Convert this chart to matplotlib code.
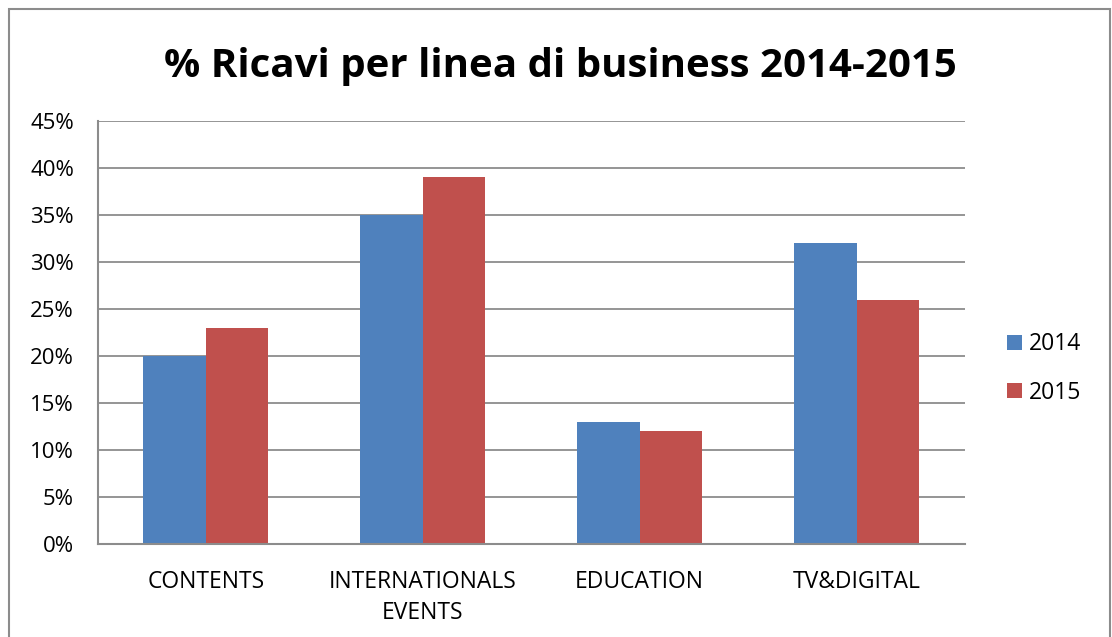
import matplotlib
matplotlib.use("Agg")
import matplotlib.pyplot as plt
from matplotlib.patches import Rectangle
from matplotlib.ticker import FuncFormatter, MultipleLocator
import numpy as np

categories = ["CONTENTS", "INTERNATIONALS\nEVENTS", "EDUCATION", "TV&DIGITAL"]
series_names = ["2014", "2015"]
values_2014 = [20, 35, 13, 32]
values_2015 = [23, 39, 12, 26]
title = "% Ricavi per linea di business 2014-2015"

W, H = 1112, 637
fig = plt.figure(figsize=(W / 100, H / 100), dpi=100)
plt.rcParams['font.family'] = ['Open Sans', 'DejaVu Sans']

# outer chart border
fig.patches.append(Rectangle((9 / W, -0.05), (1110 - 9) / W, (H - 9) / H + 0.05,
                             transform=fig.transFigure, fill=False,
                             edgecolor='#8c8c8c', linewidth=1.5))

ax = fig.add_axes([97.5 / W, 1 - 544 / H, (965 - 97.5) / W, (544 - 121) / H])
x = np.arange(len(categories))
bw = 0.288
ax.bar(x - bw / 2, values_2014, width=bw, color='#4F81BD', label=series_names[0])
ax.bar(x + bw / 2, values_2015, width=bw, color='#C0504D', label=series_names[1])

ax.set_xlim(-0.5, len(categories) - 0.5)
ax.set_ylim(0, 45)
ax.yaxis.set_major_locator(MultipleLocator(5))
ax.yaxis.set_major_formatter(FuncFormatter(lambda v, p: f"{int(round(v))}%"))
ax.grid(axis='y', color='#8c8c8c', linewidth=1.3)
ax.set_axisbelow(True)
for s in ['top', 'right']:
    ax.spines[s].set_visible(False)
for s in ['left', 'bottom']:
    ax.spines[s].set_color('#8c8c8c')
    ax.spines[s].set_linewidth(1.5)
ax.set_xticks(x)
ax.set_xticklabels(categories, fontsize=16.5, linespacing=1.35)
ax.tick_params(axis='x', length=0, pad=19)
ax.tick_params(axis='y', length=0, pad=17, labelsize=16)
for lbl in ax.get_xticklabels():
    lbl.set_verticalalignment('top')

fig.text(560 / W, 1 - 67 / H, title, ha='center', va='center',
         fontsize=29, fontweight='bold')

ax.legend(loc='center left', bbox_to_anchor=(1007 / W, 1 - 368.5 / H),
          bbox_transform=fig.transFigure, frameon=False, fontsize=16.5,
          handlelength=0.65, handleheight=0.65, handletextpad=0.3,
          labelspacing=1.05, borderpad=0, borderaxespad=0)

fig.savefig("out.png", dpi=100, facecolor='white')
